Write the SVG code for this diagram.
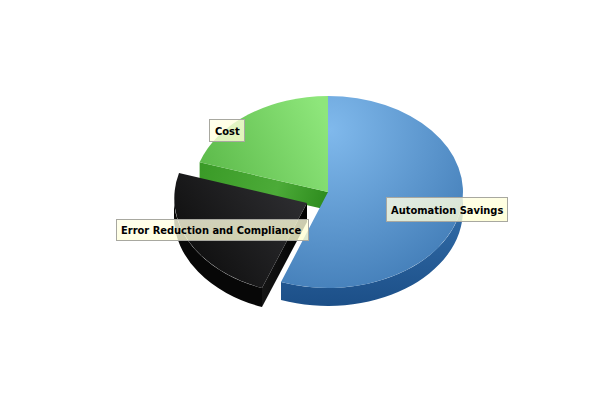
<svg xmlns="http://www.w3.org/2000/svg" width="600" height="400" viewBox="0 0 600 400">
<defs>
<radialGradient id="blueTop" gradientUnits="userSpaceOnUse" cx="330" cy="130" r="210">
<stop offset="0" stop-color="#80b9ec"/>
<stop offset="1" stop-color="#3570ac"/>
</radialGradient>
<linearGradient id="blueSide" x1="0" y1="0" x2="0" y2="1">
<stop offset="0" stop-color="#3571ad"/>
<stop offset="1" stop-color="#1c4f88"/>
</linearGradient>
<linearGradient id="greenTop" gradientUnits="userSpaceOnUse" x1="200" y1="180" x2="328" y2="120">
<stop offset="0" stop-color="#5ab848"/>
<stop offset="1" stop-color="#8ee67b"/>
</linearGradient>
<linearGradient id="greenSide" gradientUnits="userSpaceOnUse" x1="200" y1="165" x2="328" y2="205">
<stop offset="0" stop-color="#3a9a27"/>
<stop offset="0.6" stop-color="#4cab38"/>
<stop offset="1" stop-color="#2c8a1c"/>
</linearGradient>
<linearGradient id="blackTop" gradientUnits="userSpaceOnUse" x1="300" y1="200" x2="190" y2="280">
<stop offset="0" stop-color="#2d2d30"/>
<stop offset="1" stop-color="#0c0c0c"/>
</linearGradient>
<linearGradient id="blackSide" x1="0" y1="0" x2="1" y2="0">
<stop offset="0" stop-color="#151515"/>
<stop offset="1" stop-color="#000000"/>
</linearGradient>
<linearGradient id="labelFill" x1="0" y1="0" x2="1" y2="1">
<stop offset="0" stop-color="#ffffe8"/>
<stop offset="1" stop-color="#ffffd0"/>
</linearGradient>
</defs>
<style>
.lbl rect { fill: url(#labelFill); fill-opacity: 0.8; stroke: #a8a8a0; stroke-width: 1; }
.lbl text { font-family: "DejaVu Sans Condensed", "DejaVu Sans", "Liberation Sans", sans-serif; font-stretch: condensed; font-weight: bold; font-size: 11px; fill: #000000; }
</style>
<g id="slice-cost">
<path d="M199.6,162.3 L328,192 L328,210 L199.6,180.3 Z" fill="url(#greenSide)"/>
<path d="M328,192 L199.6,162.3 A135 96 0 0 1 328,96 Z" fill="url(#greenTop)"/>
</g>
<g id="slice-automation">
<path d="M463,192 A135 96 0 0 1 281,282 L281,300 A135 96 0 0 0 463,210 Z" fill="url(#blueSide)"/>
<path d="M328,192 L328,96 A135 96 0 1 1 281,282 Z" fill="url(#blueTop)"/>
</g>
<g id="slice-error">
<path d="M262,288 A135 96 0 0 1 174,198 L174,217 A135 96 0 0 0 262,307 Z" fill="#070707"/>
<path d="M307,203 L307,222 L262,307 L262,288 Z" fill="url(#blackSide)"/>
<path d="M307,203 L262,288 A135 96 0 0 1 179,173 Z" fill="url(#blackTop)"/>
</g>
<g id="connectors"></g>
<g id="label-cost" class="lbl">
<rect x="209.5" y="119.5" width="35" height="22"/>
<text x="215" y="135">Cost</text>
</g>
<g id="label-error" class="lbl">
<rect x="116.5" y="219.5" width="192" height="21"/>
<text x="121" y="234">Error Reduction and Compliance</text>
</g>
<g id="label-automation" class="lbl">
<rect x="386.5" y="197.5" width="121" height="24"/>
<text x="391" y="214">Automation Savings</text>
</g>
</svg>
